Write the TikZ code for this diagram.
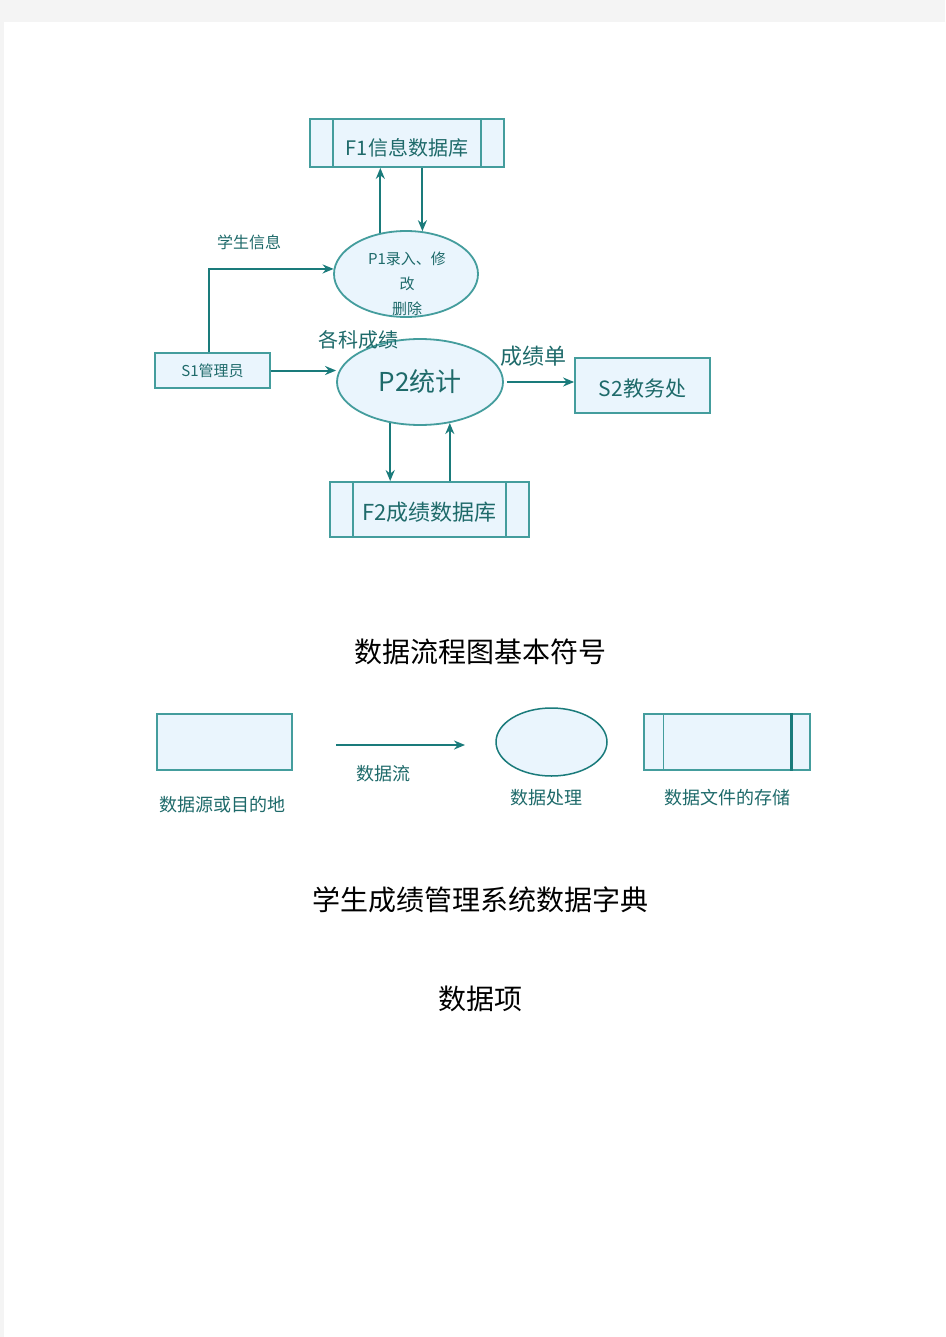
\documentclass[tikz,border=0pt]{standalone}
\usepackage{fontspec}
\setmainfont{Noto Sans CJK SC}
\usepackage{tikz}
\usetikzlibrary{positioning}
\usetikzlibrary{arrows.meta}
\usetikzlibrary{shapes.geometric}
\definecolor{pagegray}{HTML}{F4F4F4}
\definecolor{dfdline}{HTML}{449D9D}
\definecolor{dfdarrow}{HTML}{1A7B7B}
\definecolor{dfdtext}{HTML}{1E6A6A}
\definecolor{dfdfill}{HTML}{EAF5FD}
\newcommand{\sz}[1]{\fontsize{#1}{#1}\selectfont}
\tikzset{
    ent/.style={shape=rectangle,draw=dfdline,fill=dfdfill,line width=1.8pt,text=dfdtext,inner sep=0pt},
    proc/.style={shape=ellipse,draw=dfdline,fill=dfdfill,line width=1.8pt,text=dfdtext,inner sep=0pt},
    store/.style={ent,path picture={
        \draw[dfdline,line width=1.8pt] ([xshift=#1]path picture bounding box.north west) -- ([xshift=#1]path picture bounding box.south west);
        \draw[dfdline,line width=1.8pt] ([xshift=-#1]path picture bounding box.north east) -- ([xshift=-#1]path picture bounding box.south east);}},
    store/.default=23pt,
    flow/.style={draw=dfdarrow,line width=2pt,-{Stealth[length=11pt, width=9pt]}},
    lbl/.style={text=dfdtext,inner sep=0pt},
    heading/.style={text=black,inner sep=0pt,font=\sz{28}}
}

\begin{document}
\begin{tikzpicture}[x=1pt,y=-1pt]
    \useasboundingbox (0,0) rectangle (945,1337);
    \fill[pagegray] (0,0) rectangle (945,1337);
    \fill[white] (4,22) rectangle (945,1337);

    % data flow diagram
    \node[store,minimum width=194pt,minimum height=48pt,font=\sz{20},text height=28pt,text depth=2pt] (F1) at (407,143) {F1信息数据库};
    \node[proc,minimum width=144pt,minimum height=86pt] (P1) at (406,274) {};
    \node[lbl,align=center,font={\fontsize{15}{25}\selectfont}] (P1_txt) at (407,284) {P1录入、修\\改\\删除};
    \node[ent,minimum width=115pt,minimum height=35pt,font=\sz{15}] (S1) at (212.5,370.5) {S1管理员};
    \node[proc,minimum width=166pt,minimum height=86pt,font=\sz{26}] (P2) at (420,382) {P2统计};
    \node[ent,minimum width=135pt,minimum height=55pt,font=\sz{21},text height=24pt,text depth=2.5pt] (S2) at (642.5,385.5) {S2教务处};
    \node[store,minimum width=199pt,minimum height=55pt,font=\sz{22},text height=25pt,text depth=2.6pt] (F2) at (429.5,509.5) {F2成绩数据库};

    \node[lbl,font=\sz{16}] (L_info) at (249,242) {学生信息};
    \node[lbl,font=\sz{20}] (L_score) at (358,340) {各科成绩};
    \node[lbl,font=\sz{22}] (L_sheet) at (533,356) {成绩单};

    \draw[flow] (P1.122) -- (P1.122 |- F1.south);
    \draw[flow] (P1.69 |- F1.south) -- (P1.69);
    \draw[flow] ([xshift=-4pt]S1.north) |- (P1.176);
    \draw[flow] (S1.east) -- (S1.east -| P2.west);
    \draw[flow,shorten <=3pt] (P2.east) -- (P2.east -| S2.west);
    \draw[flow] (P2.234) -- (P2.234 |- F2.north);
    \draw[flow] (P2.306 |- F2.north) -- (P2.306);

    % legend
    \node[heading] (T_sym) at (480,652) {数据流程图基本符号};
    \node[ent,minimum width=135pt,minimum height=56pt] (K_src) at (224.5,742) {};
    \coordinate (K_a) at (336,745);
    \coordinate (K_b) at (465,745);
    \draw[flow] (K_a) -- (K_b);
    \node[proc,minimum width=111pt,minimum height=68pt,draw=dfdarrow,line width=1.5pt] (K_proc) at (551.5,742) {};
    \node[store=19.5pt,minimum width=166pt,minimum height=56pt] (K_store) at (727,742) {};
    \draw[dfdarrow,line width=2.2pt] ([xshift=-19.5pt]K_store.north east) -- ([xshift=-19.5pt]K_store.south east);
    \node[lbl,font=\sz{18}] (K_src_txt) at (222,805) {数据源或目的地};
    \node[lbl,font=\sz{18}] (K_flow_txt) at (383,774) {数据流};
    \node[lbl,font=\sz{18}] (K_proc_txt) at (546,798) {数据处理};
    \node[lbl,font=\sz{18}] (K_store_txt) at (727,798) {数据文件的存储};

    \node[heading] (T_dict) at (480,900) {学生成绩管理系统数据字典};
    \node[heading] (T_item) at (480,999) {数据项};
\end{tikzpicture}
\end{document}
